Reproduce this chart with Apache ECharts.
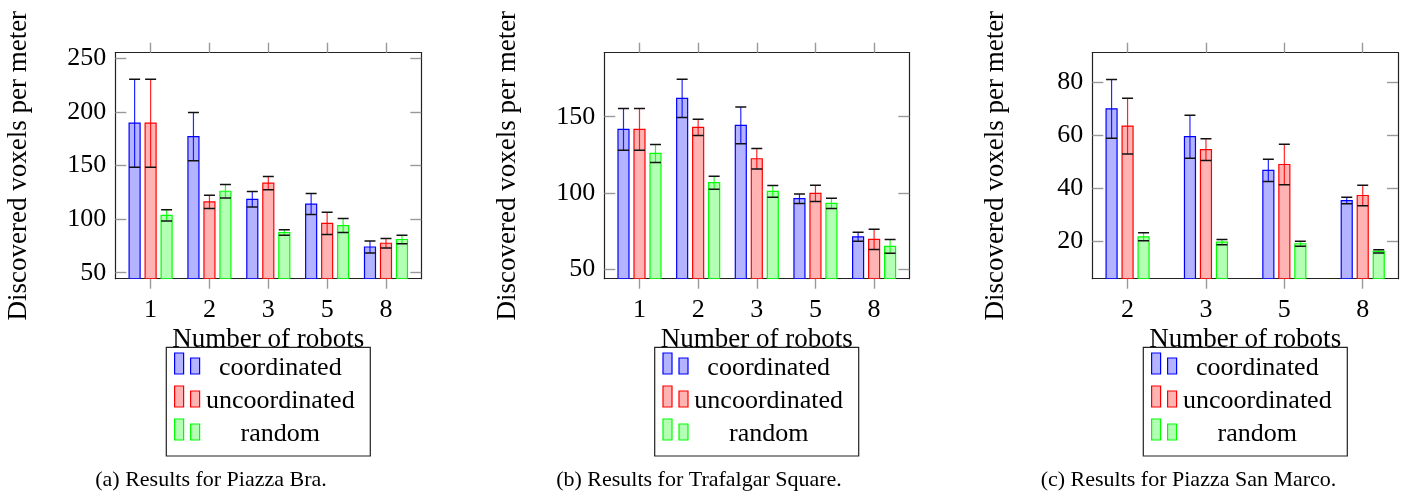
<!DOCTYPE html>
<html>
<head>
<meta charset="utf-8">
<script src="https://cdn.jsdelivr.net/npm/echarts@6/dist/echarts.min.js"></script>
<style>
  html, body { margin: 0; padding: 0; background: #fff; }
  #chart { width: 1411px; height: 492px; }
</style>
</head>
<body>
<div id="chart"></div>
<script>
// Number of robots on each x axis
const robotsBraTrafalgar = ['1', '2', '3', '5', '8'];
const robotsSanMarco = ['2', '3', '5', '8'];

const methods = ['coordinated', 'uncoordinated', 'random'];

// Piazza Bra: mean and error (half-range) per robot count
const braCoordinated = [189.5, 177.0, 118.5, 114.0, 74.0];
const braCoordinatedErr = [41.0, 22.5, 7.3, 9.8, 5.6];
const braUncoordinated = [189.5, 116.0, 133.5, 96.0, 77.5];
const braUncoordinatedErr = [41.0, 6.2, 6.2, 10.3, 4.4];
const braRandom = [103.5, 126.0, 87.5, 94.0, 81.0];
const braRandomErr = [5.2, 6.4, 2.5, 6.5, 3.9];

// Trafalgar Square
const trafalgarCoordinated = [141.7, 162.0, 144.3, 96.2, 71.2];
const trafalgarCoordinatedErr = [13.7, 12.5, 12.0, 3.1, 2.9];
const trafalgarUncoordinated = [141.7, 143.0, 122.4, 99.7, 69.5];
const trafalgarUncoordinatedErr = [13.7, 5.3, 6.7, 5.3, 6.6];
const trafalgarRandom = [125.9, 106.7, 101.0, 93.1, 64.9];
const trafalgarRandomErr = [5.9, 4.3, 3.9, 3.4, 4.5];

// Piazza San Marco
const sanMarcoCoordinated = [69.9, 59.4, 46.7, 35.3];
const sanMarcoCoordinatedErr = [11.1, 8.1, 4.2, 1.2];
const sanMarcoUncoordinated = [63.4, 54.5, 48.9, 37.2];
const sanMarcoUncoordinatedErr = [10.5, 4.1, 7.6, 3.9];
const sanMarcoRandom = [21.6, 19.6, 19.0, 16.1];
const sanMarcoRandomErr = [1.5, 1.0, 0.95, 0.6];

// Tick labels on the value axes
const yTicksBra = [50, 100, 150, 200, 250];
const yTicksTrafalgar = [50, 100, 150];
const yTicksSanMarco = [20, 40, 60, 80];

const captions = [
  '(a) Results for Piazza Bra.',
  '(b) Results for Trafalgar Square.',
  '(c) Results for Piazza San Marco.'
];

const FONT = '"Liberation Serif", "Times New Roman", serif';
const strokeColors = ['#0000ff', '#ff0000', '#00ff00'];
const fillColors = ['#b3b3ff', '#ffb3b3', '#b3ffb3'];
const barOffsets = [-16, 0, 16];
const BAR_W = 11;

const panels = [
  {
    cats: robotsBraTrafalgar,
    means: [braCoordinated, braUncoordinated, braRandom],
    errs: [braCoordinatedErr, braUncoordinatedErr, braRandomErr],
    yTicks: yTicksBra, yMin: 44.4, yMax: 255.3,
    grid: { left: 115.3, top: 52.7, width: 306, height: 226 },
    legendLeft: 166.3, captionX: 211
  },
  {
    cats: robotsBraTrafalgar,
    means: [trafalgarCoordinated, trafalgarUncoordinated, trafalgarRandom],
    errs: [trafalgarCoordinatedErr, trafalgarUncoordinatedErr, trafalgarRandomErr],
    yTicks: yTicksTrafalgar, yMin: 43.7, yMax: 192,
    grid: { left: 604.3, top: 52.7, width: 305, height: 226 },
    legendLeft: 654.7, captionX: 699
  },
  {
    cats: robotsSanMarco,
    means: [sanMarcoCoordinated, sanMarcoUncoordinated, sanMarcoRandom],
    errs: [sanMarcoCoordinatedErr, sanMarcoUncoordinatedErr, sanMarcoRandomErr],
    yTicks: yTicksSanMarco, yMin: 5.8, yMax: 91.1,
    grid: { left: 1092.3, top: 52.7, width: 305.7, height: 226 },
    legendLeft: 1143.3, captionX: 1188.5
  }
];

// Bar with error whiskers, drawn from the bottom of the plot frame
function barWithError(k) {
  return function (params, api) {
    const x = api.value(0), m = api.value(1), e = api.value(2);
    const cs = params.coordSys;
    const bottom = cs.y + cs.height;
    const top = api.coord([x, m]);
    const cx = top[0] + barOffsets[k];
    const hi = api.coord([x, m + e])[1];
    const lo = api.coord([x, m - e])[1];
    const half = BAR_W / 2;
    return {
      type: 'group',
      children: [
        { type: 'rect', shape: { x: cx - half, y: top[1], width: BAR_W, height: bottom - top[1] },
          style: { fill: fillColors[k], stroke: strokeColors[k], lineWidth: 1.2 } },
        { type: 'line', shape: { x1: cx, y1: lo, x2: cx, y2: hi },
          style: { stroke: strokeColors[k], lineWidth: 1.2, opacity: 0.85 } },
        { type: 'line', shape: { x1: cx - half, y1: hi, x2: cx + half, y2: hi },
          style: { stroke: '#111', lineWidth: 1.5 } },
        { type: 'line', shape: { x1: cx - half, y1: lo, x2: cx + half, y2: lo },
          style: { stroke: '#111', lineWidth: 1.5 } }
      ]
    };
  };
}

const grids = [], xAxes = [], yAxes = [], series = [], graphics = [];
const tickStyle = { color: '#999', width: 1.4 };
const frameLine = { show: true, onZero: false, lineStyle: { color: '#222', width: 1.2 } };

panels.forEach((p, i) => {
  grids.push(Object.assign({ containLabel: false }, p.grid));
  const n = p.cats.length;
  const pad = 0.15 * (n - 1);
  const idx = p.cats.map((_, j) => j);
  const xBase = {
    type: 'value', gridIndex: i, min: -pad, max: n - 1 + pad,
    axisLine: frameLine, splitLine: { show: false },
    axisTick: { show: true, inside: false, length: 10, lineStyle: tickStyle, customValues: idx }
  };
  xAxes.push(Object.assign({}, xBase, {
    position: 'bottom',
    name: 'Number of robots', nameLocation: 'middle', nameGap: 48,
    nameTextStyle: { fontFamily: FONT, fontSize: 27, color: '#000' },
    axisLabel: { show: true, customValues: idx, margin: 18, fontFamily: FONT, fontSize: 26, color: '#000',
      formatter: v => p.cats[Math.round(v)] }
  }));
  xAxes.push(Object.assign({}, xBase, { position: 'top', axisLabel: { show: false } }));
  const yBase = {
    type: 'value', gridIndex: i, min: p.yMin, max: p.yMax,
    axisLine: frameLine, splitLine: { show: false },
    axisTick: { show: true, inside: true, length: 11, lineStyle: tickStyle, customValues: p.yTicks }
  };
  yAxes.push(Object.assign({}, yBase, {
    position: 'left',
    name: 'Discovered voxels per meter', nameLocation: 'middle', nameGap: 83,
    nameTextStyle: { fontFamily: FONT, fontSize: 27, color: '#000' },
    axisLabel: { show: true, customValues: p.yTicks, margin: 9, fontFamily: FONT, fontSize: 26, color: '#000' }
  }));
  yAxes.push(Object.assign({}, yBase, { position: 'right', axisLabel: { show: false } }));

  methods.forEach((name, k) => {
    series.push({
      type: 'custom', name: name,
      xAxisIndex: 2 * i, yAxisIndex: 2 * i,
      clip: true,
      renderItem: barWithError(k),
      encode: { x: 0, y: 1 },
      data: p.means[k].map((m, j) => [j, m, p.errs[k][j]])
    });
  });

  // Legend box with paired bar icons and centred labels
  const L = p.legendLeft, T = 347.3;
  graphics.push({ type: 'rect', shape: { x: L, y: T, width: 204, height: 108.7 },
    style: { fill: '#fff', stroke: '#222', lineWidth: 1.2 } });
  methods.forEach((name, k) => {
    const rowBottom = 374 + k * 33;
    graphics.push(
      { type: 'rect', shape: { x: L + 8.3, y: rowBottom - 21, width: 9, height: 21 },
        style: { fill: fillColors[k], stroke: strokeColors[k], lineWidth: 1.2 } },
      { type: 'rect', shape: { x: L + 24.3, y: rowBottom - 16, width: 9, height: 16 },
        style: { fill: fillColors[k], stroke: strokeColors[k], lineWidth: 1.2 } },
      { type: 'text', x: L + 114, y: rowBottom - 6,
        style: { text: name, font: '26px ' + FONT, fill: '#000', align: 'center', verticalAlign: 'middle' } }
    );
  });

  graphics.push({
    type: 'text', x: p.captionX, y: 480,
    style: { text: captions[i], font: '22px ' + FONT, fill: '#000', align: 'center', verticalAlign: 'middle' }
  });
});

const chart = echarts.init(document.getElementById('chart'), null, { renderer: 'canvas' });
chart.setOption({
  animation: false,
  backgroundColor: '#fff',
  grid: grids,
  xAxis: xAxes,
  yAxis: yAxes,
  series: series,
  graphic: graphics
});
</script>
</body>
</html>
